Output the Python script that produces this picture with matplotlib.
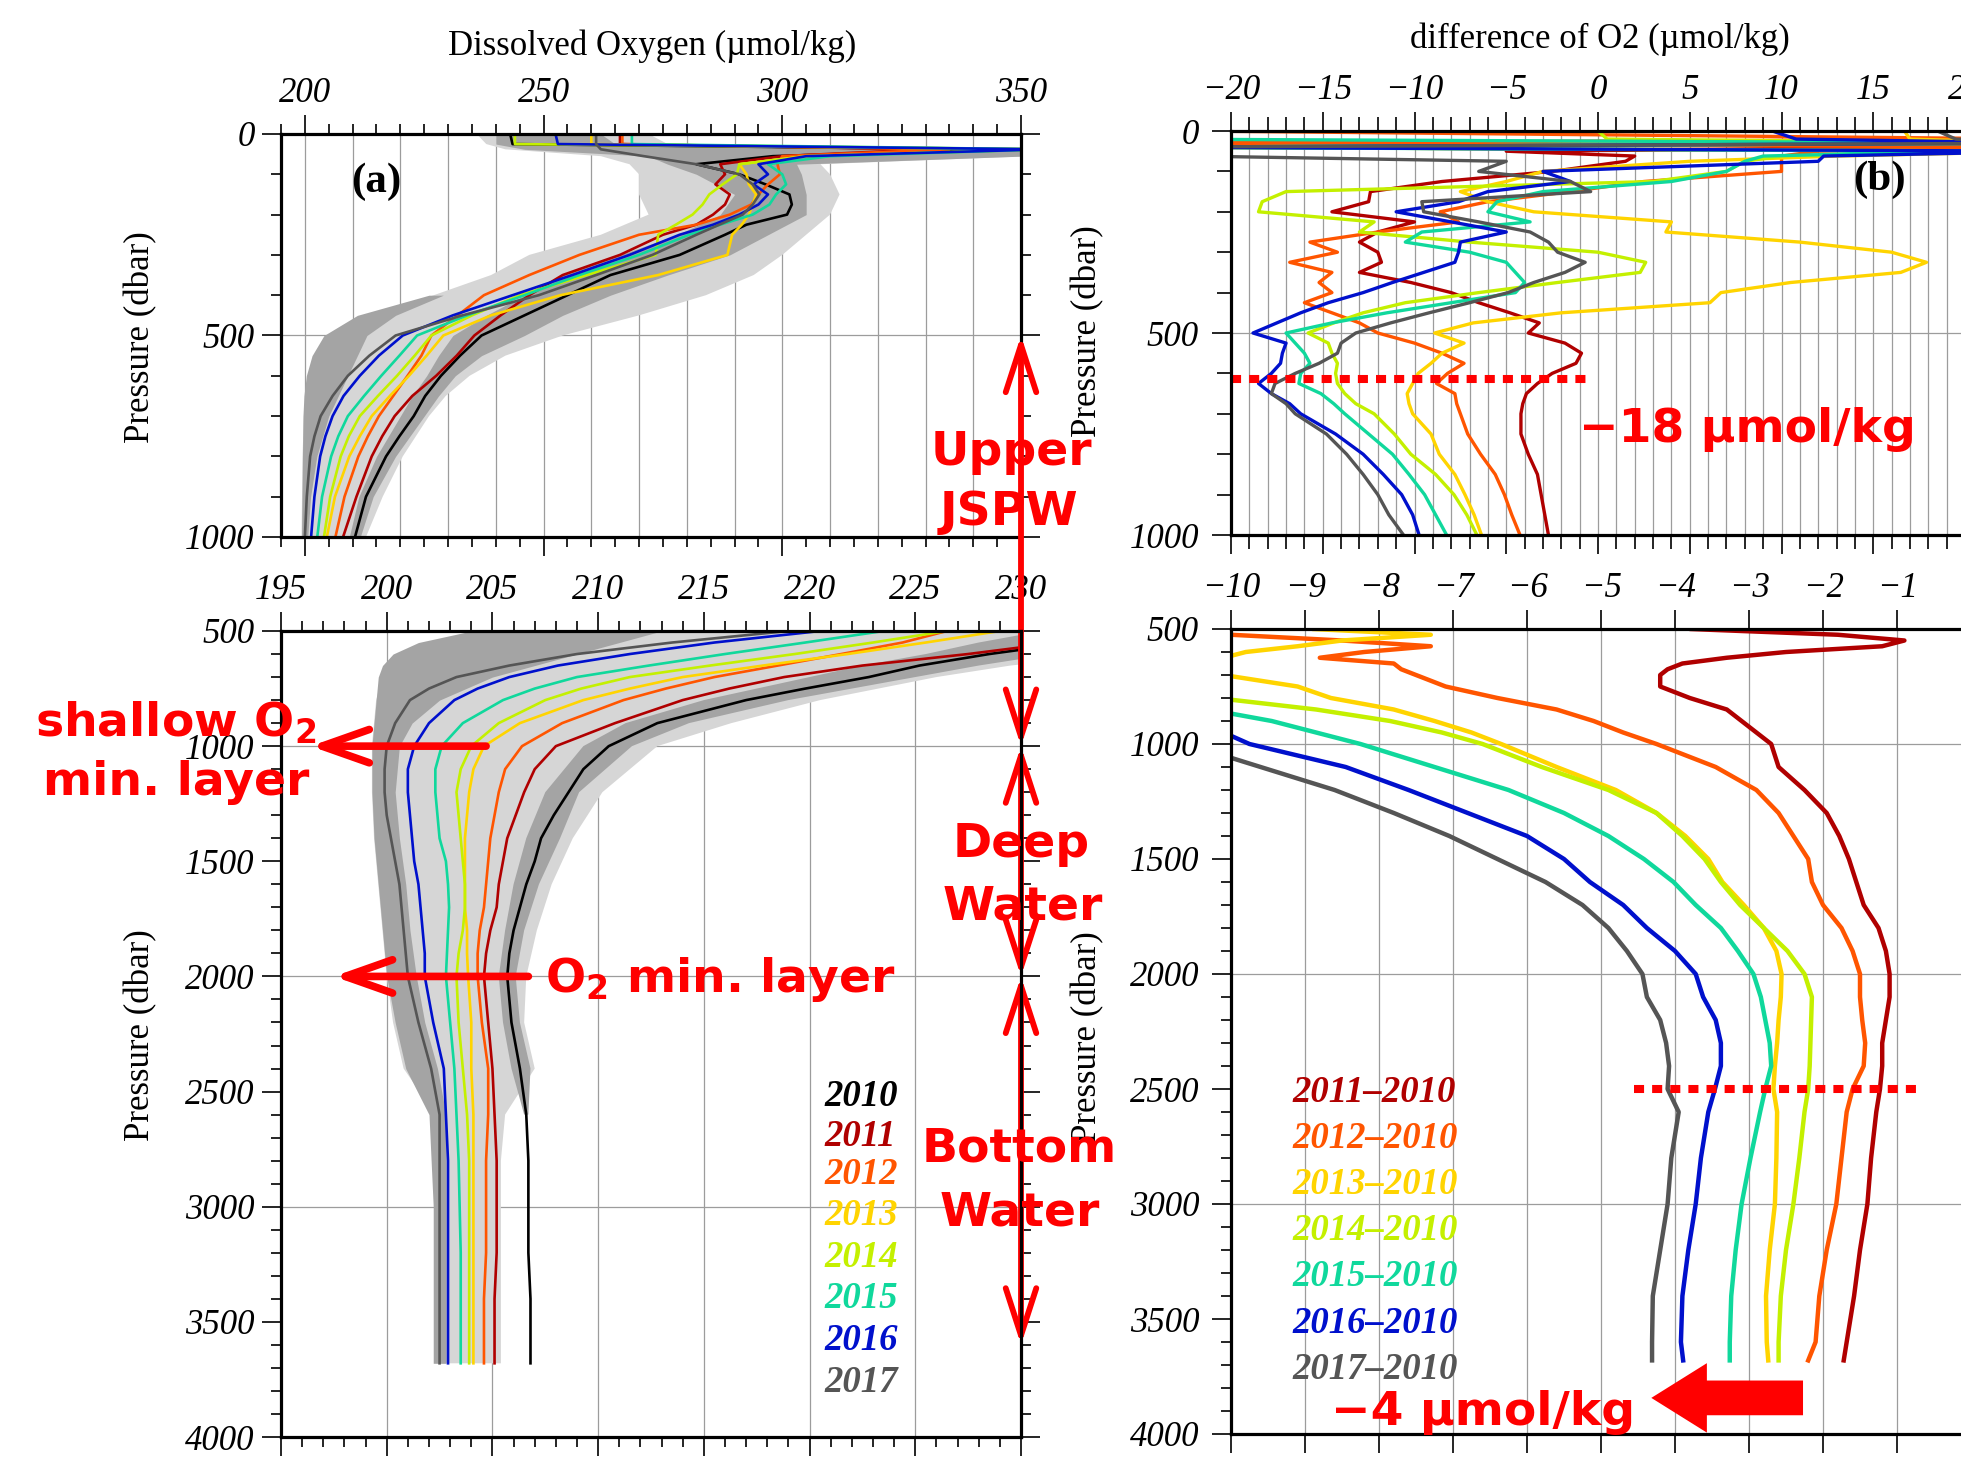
import numpy as np
import matplotlib
matplotlib.use("Agg")
import matplotlib.pyplot as plt
from matplotlib.patches import ArrowStyle

W, H = 1961, 1458

YEARS = ['2010', '2011', '2012', '2013', '2014', '2015', '2016', '2017']
COLORS = ['#000000', '#b00000', '#ff5500', '#ffd400', '#c4f000', '#10d89c', '#0010cc', '#555555']
DIFF_LABELS = ['2011\u20132010', '2012\u20132010', '2013\u20132010', '2014\u20132010',
               '2015\u20132010', '2016\u20132010', '2017\u20132010']

# dissolved oxygen profiles (umol/kg) at pressure levels (dbar)
P_O2 = [0, 25, 38, 55, 75, 100, 125, 150, 175, 200, 225, 250,
        300, 350, 400, 450, 500, 550, 600, 650, 700, 750, 800, 900, 1000,
        1100, 1200, 1300, 1400, 1500, 1600, 1700, 1800, 1900, 2000,
        2200, 2400, 2600, 2800, 3000, 3200, 3400, 3600, 3680]

O2_2010 = [243, 243.5, 342, 298, 282, 291, 296.5, 301.5, 302, 301, 292.5, 288,
           278.5, 264, 255, 246, 237, 232.5, 228.5, 225.2, 222.8, 219.8, 217, 212.8, 210.5,
           209.3, 208.6, 207.9, 207.3, 207.0, 206.6, 206.3, 206.0, 205.8, 205.7,
           205.9, 206.3, 206.6, 206.7, 206.7, 206.7, 206.8, 206.8, 206.8]
O2_2011 = [266, 266, 330, 300, 287, 288, 286, 289, 288, 285.5, 282, 275,
           266, 254, 247, 241, 235.5, 231.8, 227.5, 222.5, 218.8, 216.2, 214, 210.8, 208,
           207, 206.5, 206.1, 205.7, 205.5, 205.3, 205.2, 204.9, 204.7, 204.6,
           204.8, 205, 205.1, 205.2, 205.2, 205.2, 205.1, 205.1, 205.1]
O2_2012 = [266.5, 266.5, 335, 300, 299, 299.5, 297, 295, 293.5, 289, 282, 270,
           257.5, 247, 237.5, 232, 226.5, 224.4, 221.5, 218.5, 215.5, 213.2, 211.2, 208.3, 206.4,
           205.6, 205.3, 205.1, 204.9, 204.8, 204.7, 204.6, 204.4, 204.3, 204.3,
           204.5, 204.8, 204.8, 204.7, 204.7, 204.7, 204.6, 204.6, 204.6]
O2_2013 = [260, 260, 355, 305, 291, 292.5, 293, 294.5, 293.8, 293, 291.5, 289.5,
           288.5, 274, 253.5, 239, 229, 225.5, 221.8, 217.8, 214, 211.5, 209.3, 206.3, 204.6,
           204.1, 203.9, 203.8, 203.7, 203.7, 203.7, 203.7, 203.8, 203.8, 203.85,
           204, 204, 204.1, 204.1, 204.1, 204.1, 204.1, 204.1, 204.1]
O2_2014 = [244, 244, 355, 305, 291, 290.5, 287.5, 284.7, 283.3, 281.2, 277.7, 274,
           273.5, 259, 245, 235, 226.5, 223, 219.3, 215.3, 211.5, 209.2, 207.5, 205.3, 204,
           203.5, 203.3, 203.4, 203.5, 203.6, 203.7, 203.7, 203.6, 203.4, 203.3,
           203.4, 203.6, 203.8, 203.9, 203.9, 203.9, 203.9, 203.9, 203.9]
O2_2015 = [268.5, 268.5, 355, 310, 297, 300, 300.8, 298.7, 297.3, 293.8, 287, 280.5,
           270, 257.5, 246, 234, 223.5, 219.8, 216, 212.4, 209, 207, 205.5, 203.6, 202.6,
           202.3, 202.3, 202.4, 202.5, 202.8, 202.9, 202.95, 202.9, 202.85, 202.8,
           203, 203.2, 203.3, 203.4, 203.45, 203.5, 203.5, 203.5, 203.5]
O2_2016 = [252.5, 253, 355, 305, 295, 297, 294, 297, 295, 291, 285.5, 278.5,
           268, 256, 243.5, 231, 220.5, 215.5, 211.5, 208.1, 205.8, 204.3, 203.2, 202, 201.3,
           201, 201, 201.1, 201.2, 201.3, 201.5, 201.6, 201.7, 201.8, 201.8,
           202.2, 202.7, 202.8, 202.9, 202.9, 202.9, 202.9, 202.9, 202.9]
O2_2017 = [261, 261, 262, 271, 282, 291, 293.8, 295.2, 293.8, 291.7, 286.8, 282,
           272.8, 261, 249, 233, 219, 213.5, 209, 205.8, 203.3, 202, 201.1, 200.4, 200,
           199.9, 199.9, 200, 200.2, 200.4, 200.6, 200.7, 200.8, 200.9, 201,
           201.5, 202.1, 202.5, 202.5, 202.5, 202.5, 202.5, 202.5, 202.5]
O2_PROFILES = [O2_2010, O2_2011, O2_2012, O2_2013, O2_2014, O2_2015, O2_2016, O2_2017]

# grey spread envelopes behind the profiles
nan = np.nan
P_SHADE = [0, 25, 38, 55, 75, 100, 150, 200, 250, 300, 350, 400, 450, 500, 550, 600, 650,
           700, 800, 900, 1000, 1200, 1400, 1600, 1800, 2000, 2200, 2400, 2600, 2800, 3000,
           3400, 3680]
LIGHT_LO = [236, 238, 242, 262, 268, 270, 270, 272, 262, 247, 239, 227, 215, 207, 204, 201.5, 200.3,
            199.8, 199.5, 199.4, 199.3, 199.3, 199.4, 199.6, 199.8, 200, 200.3, 200.8, 202.3, 202.4, 202.5,
            202.5, 202.5]
LIGHT_HI = [272, 276, 352, 352, 308, 310, 312, 310, 305, 300, 294, 284, 270, 254, 242, 234.5, 229.5,
            226, 220.5, 216.3, 212.8, 210.2, 208.8, 207.8, 207.1, 206.6, 206.5, 207, 205.6, 205.4, 205.4,
            205.4, 205.4]
DARKA_LO = [nan, nan, nan, nan, nan, nan, nan, nan, nan, nan, nan, 226, 211, 204, 201.5, 200.3, 199.8,
            199.6, 199.5, 199.4, 199.3, 199.3, 199.4, 199.6, 199.8, 200, 200.4, 200.9, 202, 202.1, 202.2,
            202.2, 202.2]
DARKA_HI = [nan, nan, nan, nan, nan, nan, nan, nan, nan, nan, nan, 229, 219, 213, 211, 209, 207,
            205, 202.5, 201.2, 200.6, 200.4, 200.6, 200.9, 201.1, 201.4, 201.8, 202.4, 202.8, 202.8, 202.8,
            202.8, 202.8]
DARKB_LO = [240, 240, 246, 272, 276, 282, 290, 287, 278, 266, 254, 246, 238, 231, 228, 225.5, 222.5,
            220, 215, 211.3, 209.3, 207.5, 206.6, 206, 205.6, 205.3, 205.5, 205.9, 206.5, nan, nan,
            nan, nan]
DARKB_HI = [262, 265, 350, 350, 303, 304, 305, 305, 297, 289, 276, 264, 254, 246, 237, 231.5, 228,
            225, 219, 214.3, 211.6, 209.1, 208.2, 207.2, 206.5, 206.1, 206.3, 206.8, 206.7, nan, nan,
            nan, nan]

# differences from 2010 (umol/kg)
P_DIFF = [0, 20, 30, 40, 50, 62, 75,
          100, 125, 150, 175, 200, 225, 250, 275, 300, 325, 350, 375, 400, 425, 450, 475,
          500, 525, 550, 575, 600, 625, 650, 675, 700,
          750, 800, 850, 900, 950, 1000,
          1100, 1200, 1300, 1400, 1500, 1600, 1700, 1800, 1900, 2000, 2100, 2200, 2300, 2400,
          2500, 2600,
          2800, 3000, 3200, 3400, 3600, 3680]

D_2011 = [-22, -22, -25, 25, -5, 2, 1.5,
          -2.5, -8.5, -12.4, -12.5, -14.5, -10, -12, -13, -12, -11.8, -13, -10.2, -8, -6.5, -4.8, -3.2,
          -3.8, -1.8, -0.9, -1.2, -2.5, -3.3, -3.9, -4.1, -4.2,
          -4.2, -3.8, -3.3, -3.1, -2.9, -2.7,
          -2.6, -2.25, -1.95, -1.78, -1.65, -1.55, -1.45, -1.25, -1.15, -1.1, -1.1, -1.15, -1.2, -1.2,
          -1.23, -1.28,
          -1.35, -1.4, -1.5, -1.58, -1.68, -1.72]
D_2012 = [-22, 25, -25, 25, 12, 10, 10,
          10, 2.5, -1.5, -6, -8.6, -7.6, -12, -15.7, -14.2, -16.8, -14.5, -15.2, -14.5, -16, -14.5, -13,
          -12, -10, -8.5, -7.3, -8.2, -8.8, -7.8, -7.7, -7.5,
          -7.1, -6.4, -5.6, -5.1, -4.7, -4.25,
          -3.45, -2.9, -2.6, -2.4, -2.2, -2.15, -2.0, -1.75, -1.6, -1.5, -1.5, -1.47, -1.43, -1.45,
          -1.6, -1.68,
          -1.75, -1.82, -1.95, -2.05, -2.1, -2.2]
D_2013 = [16.7, 17, 25, -25, 25, 13, 5,
          -3, -5, -7.5, -6, -3.5, 4, 3.7, 11, 16, 17.9, 16.5, 10.5, 6.7, 6.1, -2, -6.8,
          -8.9, -7.3, -8.5, -9.1, -9.8, -10.1, -10.4, -10.3, -10.1,
          -9.1, -8.65, -7.8, -7.25, -6.75, -6.35,
          -5.6, -4.8, -4.25, -3.86, -3.55, -3.36, -3.07, -2.8, -2.63, -2.56, -2.57, -2.6, -2.62, -2.65,
          -2.67, -2.62,
          -2.63, -2.65, -2.72, -2.77, -2.76, -2.74]
D_2014 = [0, 0.5, 25, -25, 25, 10, 8,
          7, 3, -17, -18.3, -18.5, -12.2, -13, -7, 0, 2.6, 2.3, -2.2, -6.5, -10.5, -12.8, -14.4,
          -15.8, -14.7, -14.5, -14.2, -14.3, -14.2, -13.8, -13.2, -12.2,
          -11.1, -10.2, -8.85, -7.85, -7.15, -6.6,
          -5.8, -4.9, -4.25, -3.9, -3.6, -3.38, -3.12, -2.8, -2.48, -2.25, -2.15, -2.16, -2.17, -2.18,
          -2.2, -2.25,
          -2.32, -2.4, -2.5, -2.57, -2.6, -2.6]
D_2015 = [-25, -25, 25, -25, 20, 9, 8,
          7, 4, -3, -5.5, -6, -3.7, -9.6, -10.5, -7, -5, -4.5, -4, -4.5, -8, -11.5, -14.5,
          -17, -16.5, -16, -15.7, -16.2, -16.3, -15.1, -14.4, -13.8,
          -12.5, -11.2, -10.3, -9.45, -8.85, -8.25,
          -7.25, -6.25, -5.5, -4.9, -4.42, -4.02, -3.72, -3.38, -3.15, -2.94, -2.84, -2.78, -2.72, -2.7,
          -2.78, -2.85,
          -2.98, -3.1, -3.18, -3.24, -3.26, -3.26]
D_2016 = [9.5, 10.8, 25, -25, 25, 12.3, 12,
          -3, -1.5, -6, -7.6, -11, -8, -5, -7.5, -7.6, -7.8, -9.5, -11.2, -12.8, -14.7, -16.2, -17.5,
          -18.8, -17, -17.2, -17.3, -17.8, -18.5, -17.8, -16.8, -16.2,
          -14.3, -12.8, -11.7, -10.7, -10.1, -9.75,
          -8.45, -7.6, -6.8, -6.0, -5.5, -5.15, -4.7, -4.38, -4.0, -3.72, -3.62, -3.45, -3.38, -3.38,
          -3.46, -3.55,
          -3.65, -3.72, -3.82, -3.9, -3.92, -3.89]
D_2017 = [18.5, 19.5, 25, -25, -25, -22, -5,
          -6.5, -1.5, -0.4, -9.6, -9.5, -6.5, -3.7, -2.7, -2.2, -0.7, -1.8, -3.5, -4.9, -7, -9.2, -11.3,
          -13.2, -14, -14.2, -15.2, -16.5, -17.6, -17.8, -17, -16.5,
          -14.8, -13.7, -12.8, -12.0, -11.4, -10.6,
          -9.6, -8.6, -7.8, -7.05, -6.4, -5.75, -5.25, -4.9, -4.65, -4.44, -4.38, -4.2, -4.12, -4.08,
          -4.1, -3.95,
          -4.05, -4.1, -4.2, -4.3, -4.31, -4.31]
DIFF_PROFILES = [D_2011, D_2012, D_2013, D_2014, D_2015, D_2016, D_2017]

SERIF = 'Liberation Serif'
TICK_FONT = dict(fontfamily=SERIF, fontstyle='italic', fontsize=25)
RED = '#ff0000'

fig = plt.figure(figsize=(W / 100, H / 100), dpi=100)


def box(l, t, r, b):
    return [l / W, 1 - b / H, (r - l) / W, (b - t) / H]


def fxy(x, y):
    return x / W, 1 - y / H


def minus(v):
    return str(v).replace('-', '\u2212')


def dress(ax, xlim, ylim, xmajor, xminor, ymajor, yminor, vgrid, hgrid, ypad):
    ax.set_xlim(*xlim)
    ax.set_ylim(*ylim)
    ax.set_xticks(xmajor, [minus(v) for v in xmajor], **TICK_FONT)
    ax.set_xticks(xminor, minor=True)
    ax.set_yticks(ymajor, [str(v) for v in ymajor], **TICK_FONT)
    ax.set_yticks(yminor, minor=True)
    ax.tick_params(which='both', direction='out', top=True, bottom=True, left=True, right=True,
                   labeltop=True, labelbottom=False, width=1.2, color='black')
    ax.tick_params(which='major', length=14)
    ax.tick_params(which='minor', length=7)
    ax.tick_params(axis='x', which='major', pad=3)
    ax.tick_params(axis='y', which='major', pad=ypad)
    for v in vgrid:
        ax.axvline(v, color='#9c9c9c', lw=0.9, zorder=0.5)
    for h in hgrid:
        ax.axhline(h, color='#9c9c9c', lw=0.9, zorder=0.5)
    for s in ax.spines.values():
        s.set_linewidth(2.3)
        s.set_zorder(5)


ax_at = fig.add_axes(box(281, 134, 1021, 537))
ax_ab = fig.add_axes(box(281, 631, 1021, 1437))
ax_bt = fig.add_axes(box(1231, 131, 1965, 535))
ax_bb = fig.add_axes(box(1231, 629, 1971, 1434))

dress(ax_at, (195, 350), (1000, 0), [200, 250, 300, 350], list(range(195, 351, 5)),
      [0, 500, 1000], list(range(0, 1001, 100)), range(200, 350, 10), [500], 5)
dress(ax_ab, (195, 230), (4000, 500), list(range(195, 231, 5)), list(range(195, 231)),
      list(range(500, 4001, 500)), list(range(500, 4001, 100)), range(200, 230, 5),
      [1000, 2000, 3000], 5)
dress(ax_bt, (-20, 20), (1000, 0), list(range(-20, 21, 5)), list(range(-20, 21)),
      [0, 500, 1000], list(range(0, 1001, 100)), range(-19, 20), [500], 9)
ax_bt.tick_params(which='minor', length=10)
dress(ax_bb, (-10, 0), (4000, 500), list(range(-10, 0)), [],
      list(range(500, 4001, 500)), list(range(500, 4001, 100)), range(-9, 0),
      [1000, 2000, 3000], 9)

# panel (a): shading and yearly profiles
for ax in (ax_at, ax_ab):
    ax.fill_betweenx(P_SHADE, LIGHT_LO, LIGHT_HI, color='#d6d6d6', lw=0, zorder=1)
    ax.fill_betweenx(P_SHADE, DARKB_LO, DARKB_HI, color='#a4a4a4', lw=0, zorder=1.1)
    ax.fill_betweenx(P_SHADE, DARKA_LO, DARKA_HI, color='#a4a4a4', lw=0, zorder=1.1)
    for vals, c in zip(O2_PROFILES, COLORS):
        ax.plot(vals, P_O2, color=c, lw=1.9, zorder=2)

# panel (b): differences from 2010
for ax, lw in ((ax_bt, 2.4), (ax_bb, 3.2)):
    for vals, c in zip(DIFF_PROFILES, COLORS[1:]):
        ax.plot(vals, P_DIFF, color=c, lw=lw, zorder=2)

dots = dict(color=RED, lw=5.8, ls=(0, (1.25, 1.0)), dash_capstyle='butt', zorder=4, clip_on=False)
ax_bt.plot([-20, -0.6], [615, 615], **dots)
ax_bb.plot([-4.55, -0.64], [2500, 2500], **dots)

# axis titles and labels
fig.text(*fxy(652, 55), 'Dissolved Oxygen (\u00b5mol/kg)', family=SERIF, fontsize=25,
         ha='center', va='baseline')
fig.text(*fxy(1600, 48), 'difference of O2 (\u00b5mol/kg)', family=SERIF, fontsize=25,
         ha='center', va='baseline')
for x, y in ((141, 337), (141, 1035), (1088, 331), (1088, 1037)):
    fig.text(*fxy(x, y), 'Pressure (dbar)', family=SERIF, fontsize=25, rotation=90,
             ha='center', va='center')
fig.text(*fxy(376, 182), '(a)', family=SERIF, fontsize=31, fontweight='bold',
         ha='center', va='center')
fig.text(*fxy(1879, 180), '(b)', family=SERIF, fontsize=31, fontweight='bold',
         ha='center', va='center')

# year labels
for yr, c, y in zip(YEARS, COLORS, [1106, 1146, 1184, 1225, 1267, 1308, 1350, 1392]):
    fig.text(*fxy(824, y), yr, color=c, family=SERIF, fontsize=26.5, fontweight='bold',
             fontstyle='italic', ha='left', va='baseline')
for lab, c, y in zip(DIFF_LABELS, COLORS[1:], [1102, 1148, 1194, 1240, 1286, 1333, 1379]):
    fig.text(*fxy(1292, y), lab, color=c, family=SERIF, fontsize=26.5, fontweight='bold',
             fontstyle='italic', ha='left', va='baseline')

# red annotations
red_txt = dict(color=RED, family='DejaVu Sans', fontweight='bold', fontsize=34,
               va='baseline', zorder=6)
fig.text(*fxy(1011, 465), 'Upper', ha='center', **red_txt)
fig.text(*fxy(1009, 525), 'JSPW', ha='center', **red_txt)
fig.text(*fxy(1021, 857), 'Deep', ha='center', **red_txt)
fig.text(*fxy(1023, 920), 'Water', ha='center', **red_txt)
fig.text(*fxy(1019, 1162), 'Bottom', ha='center', **red_txt)
fig.text(*fxy(1020, 1225), 'Water', ha='center', **red_txt)
fig.text(*fxy(176, 795), 'shallow O$_\\mathbf{2}$\nmin. layer', ha='center',
         multialignment='center', linespacing=1.4, **red_txt)
fig.text(*fxy(545, 992), 'O$_\\mathbf{2}$ min. layer', ha='left', **red_txt)
fig.text(*fxy(1579, 442), '\u221218 \u00b5mol/kg', ha='left', **red_txt)
fig.text(*fxy(1331, 1425), '\u22124 \u00b5mol/kg', ha='left', **red_txt)

# water-mass arrows along the right edge of panel (a)
dbl = dict(arrowstyle=ArrowStyle('<->', head_length=34, head_width=11), mutation_scale=1,
           lw=4.2, color=RED, shrinkA=0, shrinkB=0)
ax_ab.annotate('', xy=(230, 1000), xytext=(350, 500), textcoords=ax_at.transData,
               arrowprops=dbl, annotation_clip=False)
ax_ab.annotate('', xy=(230, 2000), xytext=(230, 1000), arrowprops=dbl, annotation_clip=False)
ax_ab.annotate('', xy=(230, 3600), xytext=(230, 2000), arrowprops=dbl, annotation_clip=False)

one = dict(arrowstyle=ArrowStyle('->', head_length=34, head_width=12), mutation_scale=1,
           lw=5.5, color=RED, shrinkA=0, shrinkB=0)
ax_ab.annotate('', xy=(196.4, 1000), xytext=(204.7, 1000), arrowprops=one, annotation_clip=False)
ax_ab.annotate('', xy=(197.5, 2000), xytext=(206.7, 2000), arrowprops=one, annotation_clip=False)

fat = dict(arrowstyle=ArrowStyle.Simple(head_length=40, head_width=50, tail_width=25),
           mutation_scale=1, color=RED, lw=0, shrinkA=0, shrinkB=0)
ax_bb.annotate('', xy=(-4.32, 3843), xytext=(-2.27, 3843), arrowprops=fat, annotation_clip=False)

fig.savefig('out.png', dpi=100)
